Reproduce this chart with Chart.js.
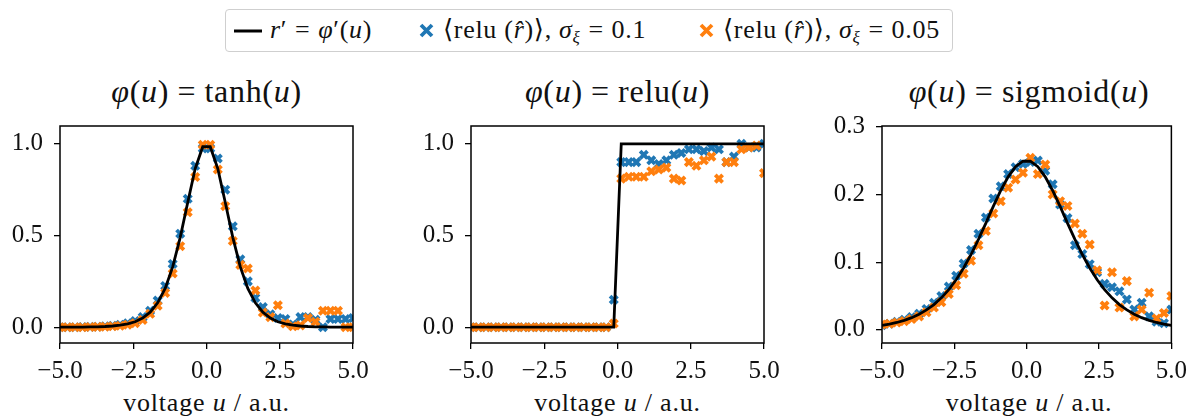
<!DOCTYPE html>
<html><head><meta charset="utf-8">
<script src="https://cdn.jsdelivr.net/npm/chart.js@4.4.1/dist/chart.umd.min.js"></script>
<style>
html,body{margin:0;padding:0;background:#fff;}
body{width:1194px;height:416px;position:relative;overflow:hidden;font-family:"Liberation Serif","DejaVu Serif";color:#111;}
canvas.cv{position:absolute;}
.title{position:absolute;font-size:32px;white-space:nowrap;transform:translateX(-50%);top:73px;line-height:36px;letter-spacing:0.7px;}
.xlab{position:absolute;font-size:26px;white-space:nowrap;transform:translateX(-50%);top:388px;line-height:30px;letter-spacing:0.8px;}
.legend{position:absolute;left:225px;top:9px;width:728px;height:43px;border:1.3px solid #cfcfcf;border-radius:4px;box-sizing:border-box;background:#fff;}
.li{position:absolute;top:5px;font-size:26px;white-space:nowrap;line-height:30px;letter-spacing:0.7px;}
.sw{position:absolute;}
.eq{margin:0 0.3em;}
.title .eq{margin:0 0.26em;}
sub{font-size:17px;vertical-align:-5px;line-height:0;}
</style></head>
<body>
<div class="legend">
  <svg class="sw" style="left:7px;top:10px" width="30" height="22"><line x1="1" y1="11" x2="29" y2="11" stroke="#000" stroke-width="3"/></svg>
  <div class="li" style="left:44px"><i>r</i>′<span class="eq">=</span><i>φ</i>′(<i>u</i>)</div>
  <svg class="sw" style="left:192px;top:12px" width="17" height="17"><path d="M3 3 L14 14 M14 3 L3 14" stroke="#1f77b4" stroke-width="3.8"/></svg>
  <div class="li" style="left:217px">⟨relu (<i>r̂</i>)⟩, <i>σ</i><sub><i>ξ</i></sub><span class="eq">=</span>0.1</div>
  <svg class="sw" style="left:472px;top:12px" width="17" height="17"><path d="M3 3 L14 14 M14 3 L3 14" stroke="#ff7f0e" stroke-width="3.8"/></svg>
  <div class="li" style="left:497px">⟨relu (<i>r̂</i>)⟩, <i>σ</i><sub><i>ξ</i></sub><span class="eq">=</span>0.05</div>
</div>

<div class="title" style="left:206.5px"><i>φ</i>(<i>u</i>)<span class="eq">=</span>tanh(<i>u</i>)</div>
<div class="title" style="left:617.5px"><i>φ</i>(<i>u</i>)<span class="eq">=</span>relu(<i>u</i>)</div>
<div class="title" style="left:1029px"><i>φ</i>(<i>u</i>)<span class="eq">=</span>sigmoid(<i>u</i>)</div>

<canvas id="c1" class="cv" width="378" height="288" style="left:0px;top:100px"></canvas>
<canvas id="c2" class="cv" width="378" height="288" style="left:411px;top:100px"></canvas>
<canvas id="c3" class="cv" width="372" height="288" style="left:822px;top:100px"></canvas>

<div class="xlab" style="left:206.5px">voltage <i>u</i> / a.u.</div>
<div class="xlab" style="left:617.5px">voltage <i>u</i> / a.u.</div>
<div class="xlab" style="left:1029px">voltage <i>u</i> / a.u.</div>

<script>
// membrane voltage samples (40 points)
const u = [-5.000,-4.744,-4.487,-4.231,-3.974,-3.718,-3.462,-3.205,-2.949,-2.692,-2.436,-2.179,-1.923,-1.667,-1.410,-1.154,-0.897,-0.641,-0.385,-0.128,
           0.128,0.385,0.641,0.897,1.154,1.410,1.667,1.923,2.179,2.436,2.692,2.949,3.205,3.462,3.718,3.974,4.231,4.487,4.744,5.000];

// tanh panel
const tanhLine = [0.0002,0.0003,0.0005,0.0008,0.0014,0.0024,0.0039,0.0066,0.0109,0.0182,0.030,0.050,0.082,0.133,0.212,0.329,0.490,0.680,0.865,0.984,
                  0.984,0.865,0.680,0.490,0.329,0.212,0.133,0.082,0.050,0.030,0.0182,0.0109,0.0066,0.0039,0.0024,0.0014,0.0008,0.0005,0.0003,0.0002];
const tanhBlue = [0,0,0,0.001,0.002,0.003,0.005,0.008,0.013,0.021,0.034,0.055,0.090,0.145,0.225,0.345,0.510,0.700,0.880,0.975,
                  0.975,0.920,0.750,0.550,0.370,0.250,0.160,0.110,0.070,0.050,0.045,0.015,0.055,0.055,0.040,0.000,0.045,0.045,0.045,0.050];
const tanhOrange = [0,0,0,0,0.001,0.002,0.003,0.005,0.008,0.014,0.022,0.040,0.073,0.117,0.187,0.293,0.442,0.627,0.819,0.995,
                    0.995,0.860,0.660,0.470,0.340,0.320,0.200,0.080,0.055,0.120,0.020,0.005,0.010,0.050,0.030,0.090,0.090,0.090,0.000,0.000];

// relu panel
const reluLine = [0,0,0,0,0,0,0,0,0,0,0,0,0,0,0,0,0,0,0,0,
                  1,1,1,1,1,1,1,1,1,1,1,1,1,1,1,1,1,1,1,1];
const reluBlue = [0,0,0,0,0,0,0,0,0,0,0,0,0,0,0,0,0,0,0,0.15,
                  0.90,0.90,0.90,0.94,0.91,0.89,0.91,0.94,0.95,0.97,0.97,0.96,0.98,0.97,0.90,0.93,1.00,0.98,0.98,1.00];
const reluOrange = [0,0,0,0,0,0,0,0,0,0,0,0,0,0,0,0,0,0,0,0.02,
                    0.81,0.82,0.82,0.82,0.85,0.86,0.87,0.81,0.80,0.90,0.88,0.91,0.93,0.81,0.90,0.90,0.97,0.98,0.99,0.84];

// sigmoid panel
const sigLine = [0.0066,0.0086,0.0110,0.0142,0.0181,0.0231,0.0295,0.0374,0.0473,0.0595,0.0740,0.0914,0.1113,0.1336,0.1577,0.1823,0.2058,0.2260,0.2410,0.2490,
                 0.2490,0.2410,0.2260,0.2058,0.1823,0.1577,0.1336,0.1113,0.0914,0.0740,0.0595,0.0473,0.0374,0.0295,0.0231,0.0181,0.0142,0.0110,0.0086,0.0066];
const sigBlue = [0.007,0.009,0.012,0.015,0.019,0.024,0.031,0.040,0.050,0.064,0.080,0.098,0.118,0.142,0.166,0.194,0.212,0.230,0.240,0.245,
                 0.248,0.250,0.235,0.215,0.185,0.165,0.125,0.112,0.097,0.085,0.068,0.063,0.057,0.045,0.030,0.040,0.020,0.012,0.010,0.030];
const sigOrange = [0.008,0.009,0.011,0.013,0.016,0.020,0.026,0.033,0.041,0.053,0.066,0.083,0.102,0.125,0.146,0.172,0.190,0.210,0.222,0.232,
                   0.254,0.230,0.244,0.200,0.190,0.183,0.157,0.142,0.126,0.088,0.036,0.085,0.033,0.072,0.020,0.030,0.055,0.017,0.025,0.050];

// tick labels
const xTicks = [-5, -2.5, 0, 2.5, 5];
const yTicksUnit = [0, 0.5, 1.0];
const yTicksSig = [0, 0.1, 0.2, 0.3];

const BLUE = '#1f77b4', ORANGE = '#ff7f0e';
const FONT = {family: '"Liberation Serif", "DejaVu Serif"', size: 25};
const fmt = v => (v < 0 ? '\u2212' : '') + Math.abs(v).toFixed(1);
const pts = ys => u.map((x, i) => ({x: x, y: ys[i]}));

const frame = {
  id: 'frame',
  afterDatasetsDraw(chart) {
    const {ctx, chartArea: a} = chart;
    ctx.save();
    ctx.strokeStyle = '#000';
    ctx.lineWidth = 1.5;
    ctx.strokeRect(a.left, a.top, a.right - a.left, a.bottom - a.top);
    ctx.restore();
  }
};

function makeChart(id, line, blue, orange, ymin, ymax, yTicks, padRight) {
  const scatterDs = (data, color) => ({
    data: pts(data), showLine: false,
    pointStyle: 'crossRot', pointRadius: 5.2, pointHoverRadius: 5.2,
    borderColor: color, backgroundColor: color, pointBorderWidth: 3.8, clip: 0
  });
  return new Chart(document.getElementById(id), {
    type: 'scatter',
    data: {
      datasets: [
        {data: pts(line), showLine: true, borderColor: '#000', borderWidth: 2.8,
         pointRadius: 0, tension: 0, clip: 0},
        scatterDs(orange, ORANGE),
        scatterDs(blue, BLUE)
      ]
    },
    options: {
      responsive: false, animation: false, devicePixelRatio: 1,
      layout: {padding: {top: 23, right: padRight, left: 0, bottom: 0}},
      plugins: {legend: {display: false}, tooltip: {enabled: false}},
      scales: {
        x: {
          type: 'linear', min: -5, max: 5,
          afterBuildTicks: s => { s.ticks = xTicks.map(v => ({value: v})); },
          afterFit: s => { s.height = 45; },
          ticks: {font: FONT, color: '#111', padding: 7, maxRotation: 0, autoSkip: false, callback: v => fmt(v)},
          grid: {display: true, drawOnChartArea: false, drawTicks: true, tickLength: 6, color: '#000', lineWidth: 1.3},
          border: {display: false}
        },
        y: {
          type: 'linear', min: ymin, max: ymax,
          afterBuildTicks: s => { s.ticks = yTicks.map(v => ({value: v})); },
          afterFit: s => { s.width = 60; },
          ticks: {font: FONT, color: '#111', padding: 11, autoSkip: false, callback: v => fmt(v)},
          grid: {display: true, drawOnChartArea: false, drawTicks: true, tickLength: 6, color: '#000', lineWidth: 1.3},
          border: {display: false}
        }
      }
    },
    plugins: [frame]
  });
}

function drawAll() {
  makeChart('c1', tanhLine, tanhBlue, tanhOrange, -0.086, 1.097, yTicksUnit, 25);
  makeChart('c2', reluLine, reluBlue, reluOrange, -0.086, 1.097, yTicksUnit, 25);
  makeChart('c3', sigLine, sigBlue, sigOrange, -0.0193, 0.301, yTicksSig, 18);
}
if (document.fonts && document.fonts.load) {
  Promise.all([document.fonts.load('25px "Liberation Serif"'), document.fonts.load('25px "DejaVu Serif"')])
    .then(drawAll, drawAll);
} else {
  drawAll();
}
</script>
</body></html>
